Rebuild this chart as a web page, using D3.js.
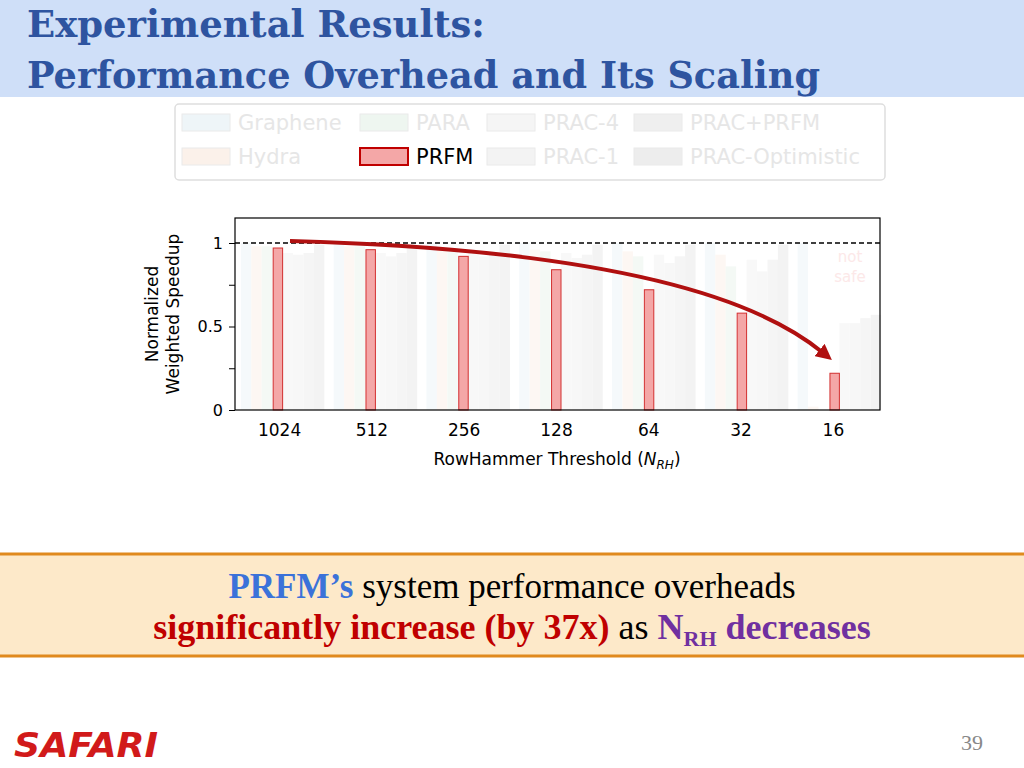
<!DOCTYPE html>
<html><head><meta charset="utf-8">
<script src="https://cdn.jsdelivr.net/npm/d3@7"></script>
<style>body{margin:0;background:#fff}</style>
</head><body>
<svg id="c" width="1024" height="768"></svg>
<script>
// thresholds and mechanisms
var thresholds = ["1024", "512", "256", "128", "64", "32", "16"];
var mechanisms = ["Graphene", "Hydra", "PARA", "PRFM", "PRAC-4", "PRAC-1", "PRAC+PRFM", "PRAC-Optimistic"];
var prfm = [0.97, 0.96, 0.92, 0.84, 0.72, 0.58, 0.22];
// faded (de-emphasised) bars, approximate
var faded = {
    "Graphene":        [1.0, 1.0, 1.0, 1.0, 1.0, 1.0, 1.0],
    "Hydra":           [0.98, 0.98, 0.97, 0.96, 0.95, 0.93, 0.02],
    "PARA":            [0.98, 0.98, 0.97, 0.95, 0.92, 0.86, 0.0],
    "PRAC-4":          [0.94, 0.94, 0.94, 0.94, 0.93, 0.90, 0.52],
    "PRAC-1":          [0.93, 0.92, 0.92, 0.91, 0.88, 0.83, 0.52],
    "PRAC+PRFM":       [0.94, 0.94, 0.93, 0.93, 0.92, 0.90, 0.55],
    "PRAC-Optimistic": [0.99, 0.99, 0.99, 0.99, 0.99, 0.99, 0.57]
};
var fadedColors = ["#f5f9fb", "#fdf7f3", "#f4f9f5", null, "#f8f8f8", "#f7f7f7", "#f5f5f5", "#f3f3f3"];
var legendColors = ["#eef5f8", "#fbf1ea", "#eef6f0", null, "#f5f5f5", "#f3f3f3", "#efefef", "#ededed"];
var yTicks = [0, 0.5, 1];

var svg = d3.select("#c");

// header
svg.append("rect").attr("width", 1024).attr("height", 97).attr("fill", "#cfdff8");
svg.append("text").attr("x", 27).attr("y", 37).text("Experimental Results:")
    .attr("font-family", "DejaVu Serif").attr("font-weight", "bold").attr("font-size", 38).attr("fill", "#2e54a0")
    .attr("textLength", 458).attr("lengthAdjust", "spacingAndGlyphs");
svg.append("text").attr("x", 27).attr("y", 88).text("Performance Overhead and Its Scaling")
    .attr("font-family", "DejaVu Serif").attr("font-weight", "bold").attr("font-size", 38).attr("fill", "#2e54a0")
    .attr("textLength", 793).attr("lengthAdjust", "spacingAndGlyphs");

// legend
var lg = svg.append("g");
lg.append("rect").attr("x", 175).attr("y", 104).attr("width", 710).attr("height", 76).attr("rx", 4)
    .attr("fill", "#fff").attr("stroke", "#dedede").attr("stroke-width", 1.5);
var legCols = [182, 360, 487, 634];
mechanisms.forEach(function (m, i) {
    var col = Math.floor(i / 2), row = i % 2;
    var x = legCols[col], y = 114 + row * 34;
    var hi = m === "PRFM";
    lg.append("rect").attr("x", x).attr("y", y).attr("width", 48).attr("height", 17)
        .attr("fill", hi ? "#f4a7a7" : legendColors[i]).attr("stroke", hi ? "#c00000" : "#eaeaea")
        .attr("stroke-width", hi ? 2 : 1);
    lg.append("text").attr("x", x + 56).attr("y", y + 16).text(m)
        .attr("font-family", "DejaVu Sans").attr("font-size", 21)
        .attr("fill", hi ? "#000" : "#e6e6e6");
});

// chart
var box = {l: 235, r: 880, t: 218, b: 410};
var x = d3.scaleBand().domain(thresholds).range([box.l + 4, box.r + 3]).paddingInner(0.1).paddingOuter(0.02);
var xs = d3.scaleBand().domain(mechanisms).range([0, x.bandwidth()]).paddingInner(0);
var y = d3.scaleLinear().domain([0, 1]).range([box.b, 243]);

var g = svg.append("g");
thresholds.forEach(function (t, ti) {
    mechanisms.forEach(function (m, mi) {
        if (m === "PRFM") return;
        var v = faded[m][ti];
        g.append("rect").attr("x", x(t) + xs(m)).attr("width", xs.bandwidth())
            .attr("y", y(v)).attr("height", y(0) - y(v)).attr("fill", fadedColors[mi]);
    });
});
g.selectAll(".prfm").data(prfm).join("rect")
    .attr("x", function (d, i) { return x(thresholds[i]) + xs("PRFM") + 1; })
    .attr("width", xs.bandwidth() - 1)
    .attr("y", function (d) { return y(d); })
    .attr("height", function (d) { return y(0) - y(d); })
    .attr("fill", "#f4a7a7").attr("stroke", "#d23030").attr("stroke-width", 1);

g.append("text").attr("x", 850).attr("y", 262).attr("text-anchor", "middle").text("not")
    .attr("font-family", "DejaVu Sans").attr("font-size", 15).attr("fill", "#fce8e8");
g.append("text").attr("x", 850).attr("y", 282).attr("text-anchor", "middle").text("safe")
    .attr("font-family", "DejaVu Sans").attr("font-size", 15).attr("fill", "#fce8e8");

g.append("line").attr("x1", box.l).attr("x2", box.r).attr("y1", y(1)).attr("y2", y(1))
    .attr("stroke", "#000").attr("stroke-dasharray", "5,3").attr("stroke-width", 1.3);
g.append("rect").attr("x", box.l).attr("y", box.t).attr("width", box.r - box.l).attr("height", box.b - box.t)
    .attr("fill", "none").attr("stroke", "#000").attr("stroke-width", 1.2);

var ya = svg.append("g").attr("transform", "translate(" + box.l + ",0)")
    .call(d3.axisLeft(y).tickValues([0, 0.25, 0.5, 0.75, 1]).tickSize(6)
        .tickFormat(function (d) { return yTicks.indexOf(d) >= 0 ? d3.format("")(d) : ""; }));
ya.select(".domain").remove();
ya.selectAll("text").attr("font-family", "DejaVu Sans").attr("font-size", 16).attr("fill", "#000").attr("dx", "-3");

var xa = svg.append("g").attr("transform", "translate(0," + box.b + ")")
    .call(d3.axisBottom(x).tickSize(0).tickPadding(14));
xa.select(".domain").remove();
xa.selectAll("text").attr("font-family", "DejaVu Sans").attr("font-size", 17).attr("fill", "#000")
    .attr("dx", function (d, i) { return -3 - i * 0.5; });

var xl = svg.append("text").attr("x", 557).attr("y", 465).attr("text-anchor", "middle")
    .attr("font-family", "DejaVu Sans").attr("font-size", 17);
xl.append("tspan").text("RowHammer Threshold (");
xl.append("tspan").attr("font-style", "italic").text("N");
xl.append("tspan").attr("font-style", "italic").attr("font-size", 12).attr("dy", 4).text("RH");
xl.append("tspan").attr("dy", -4).text(")");

var yl = svg.append("text").attr("transform", "translate(158,314) rotate(-90)").attr("text-anchor", "middle")
    .attr("font-family", "DejaVu Sans").attr("font-size", 17);
yl.append("tspan").attr("x", 0).attr("dy", 0).text("Normalized");
yl.append("tspan").attr("x", 0).attr("dy", 21).text("Weighted Speedup");

// arrow
svg.append("defs").append("marker").attr("id", "ah").attr("viewBox", "0 0 10 10").attr("refX", 2).attr("refY", 5)
    .attr("markerWidth", 4).attr("markerHeight", 4).attr("orient", "auto")
    .append("path").attr("d", "M0,0L10,5L0,10z").attr("fill", "#b01010");
svg.append("path").attr("d", "M290,241 Q700,252 822,352").attr("fill", "none")
    .attr("stroke", "#b01010").attr("stroke-width", 4).attr("marker-end", "url(#ah)");

// takeaway box
svg.append("rect").attr("x", 0).attr("y", 554).attr("width", 1024).attr("height", 103).attr("fill", "#fde9c9");
svg.append("line").attr("x1", 0).attr("x2", 1024).attr("y1", 554).attr("y2", 554).attr("stroke", "#e08a1e").attr("stroke-width", 3);
svg.append("line").attr("x1", 0).attr("x2", 1024).attr("y1", 656).attr("y2", 656).attr("stroke", "#e08a1e").attr("stroke-width", 3);
var t1 = svg.append("text").attr("x", 512).attr("y", 598).attr("text-anchor", "middle")
    .attr("font-family", "Liberation Serif").attr("font-size", 35);
t1.append("tspan").attr("fill", "#3b72d9").attr("font-weight", "bold").text("PRFM’s");
t1.append("tspan").attr("fill", "#000").text(" system performance overheads");
var t2 = svg.append("text").attr("x", 512).attr("y", 639).attr("text-anchor", "middle")
    .attr("font-family", "Liberation Serif").attr("font-size", 36);
t2.append("tspan").attr("fill", "#c00000").attr("font-weight", "bold").text("significantly increase (by 37x)");
t2.append("tspan").attr("fill", "#000").text(" as ");
t2.append("tspan").attr("fill", "#7030a0").attr("font-weight", "bold").text("N");
t2.append("tspan").attr("fill", "#7030a0").attr("font-weight", "bold").attr("font-size", 22).attr("dy", 7).text("RH");
t2.append("tspan").attr("fill", "#7030a0").attr("font-weight", "bold").attr("dy", -7).text(" decreases");

// footer
svg.append("text").attr("x", 14).attr("y", 757).text("SAFARI").attr("font-family", "DejaVu Sans")
    .attr("font-weight", "bold").attr("font-style", "italic").attr("font-size", 34).attr("fill", "#d11a1a")
    .attr("textLength", 144).attr("lengthAdjust", "spacingAndGlyphs");
svg.append("text").attr("x", 983).attr("y", 750).attr("text-anchor", "end").text("39")
    .attr("font-family", "Liberation Serif").attr("font-size", 22).attr("fill", "#888");
</script>
</body></html>
